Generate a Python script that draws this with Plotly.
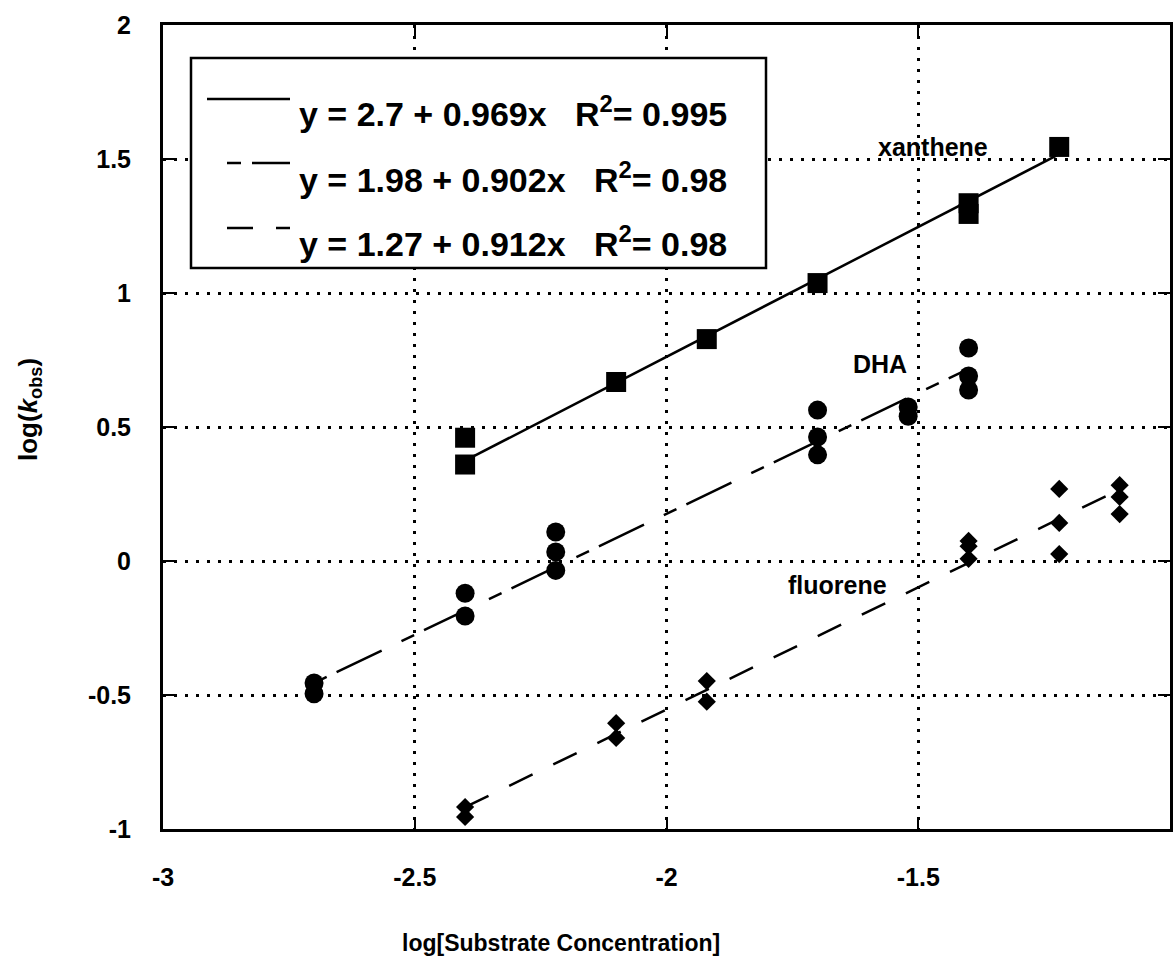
import plotly.graph_objects as go

# Observed rate constants vs. substrate concentration (log-log)
xanthene_x = [-2.4, -2.4, -2.1, -1.92, -1.7, -1.4, -1.4, -1.22]
xanthene_y = [0.46, 0.36, 0.668, 0.828, 1.037, 1.335, 1.295, 1.545]

dha_x = [-2.7, -2.7, -2.4, -2.4, -2.22, -2.22, -2.22, -1.7, -1.7, -1.7,
         -1.52, -1.52, -1.4, -1.4, -1.4]
dha_y = [-0.455, -0.495, -0.12, -0.205, 0.108, 0.034, -0.035, 0.563, 0.463, 0.396,
         0.575, 0.54, 0.795, 0.69, 0.638]

fluorene_x = [-2.4, -2.4, -2.1, -2.1, -1.92, -1.92, -1.4, -1.4, -1.4,
              -1.22, -1.22, -1.22, -1.1, -1.1, -1.1]
fluorene_y = [-0.918, -0.955, -0.605, -0.66, -0.448, -0.525, 0.075, 0.055, 0.008,
              0.269, 0.142, 0.026, 0.283, 0.239, 0.175]

# Linear fits: intercept, slope, R^2
fit_intercepts = [2.7, 1.98, 1.27]
fit_slopes = [0.969, 0.902, 0.912]
fit_r2 = ["0.995", "0.98", "0.98"]
fit_intercept_labels = ["2.7", "1.98", "1.27"]
fit_slope_labels = ["0.969", "0.902", "0.912"]

series_names = ["xanthene", "DHA", "fluorene"]
x_tickvals = [-3, -2.5, -2, -1.5, -1]
x_ticktext = ["-3", "-2.5", "-2", "-1.5", "-1"]
y_tickvals = [-1, -0.5, 0, 0.5, 1, 1.5, 2]
y_ticktext = ["-1", "-0.5", "0", "0.5", "1", "1.5", "2"]
x_title = "log[Substrate Concentration]"
y_title = "log(<i>k</i><sub>obs</sub>)"

FONT = "Arial, 'Liberation Sans', sans-serif"
dashes = ["solid", "14px,11px,50px,22px", "26px,23px"]
symbols = ["square", "circle", "diamond"]
sizes = [20, 19, 14]

# plot-area geometry in pixels (for the in-plot legend box and titles)
W, H = 1173, 956
L, R, T, B = 163, 3, 25, 127
PW, PH = W - L - R, H - T - B


def px_x(p):
    return (p - L) / PW


def px_y(p):
    return (H - B - p) / PH


def bfont(size):
    return dict(family=FONT, size=size, color="black", weight="bold")


fig = go.Figure()

series = [(xanthene_x, xanthene_y), (dha_x, dha_y), (fluorene_x, fluorene_y)]
for i, (xs, ys) in enumerate(series):
    x0, x1 = min(xs), max(xs)
    fig.add_trace(go.Scatter(
        x=[x0, x1],
        y=[fit_intercepts[i] + fit_slopes[i] * x0, fit_intercepts[i] + fit_slopes[i] * x1],
        mode="lines",
        line=dict(color="black", width=2.5, dash=dashes[i]),
        showlegend=False, hoverinfo="skip",
    ))
    fig.add_trace(go.Scatter(
        x=xs, y=ys, mode="markers", name=series_names[i],
        marker=dict(symbol=symbols[i], size=sizes[i], color="black",
                    line=dict(width=0)),
        showlegend=False,
    ))

# Series labels
label_pos = [(-1.47, 1.545), (-1.575, 0.735), (-1.66, -0.09)]
for name, (lx, ly) in zip(series_names, label_pos):
    fig.add_annotation(x=lx, y=ly, xref="x", yref="y", text=name, showarrow=False,
                       font=bfont(25), xanchor="center", yanchor="middle")

# Fit-equation legend box
fig.add_shape(type="rect", xref="paper", yref="paper",
              x0=px_x(191), x1=px_x(766), y0=px_y(268), y1=px_y(58),
              line=dict(color="black", width=2.5), fillcolor="white", layer="above")

sample_rows = [99, 163, 228]
text_rows = [111, 177, 241]
sample_starts = [207, 227, 227]
for i in range(3):
    fig.add_shape(type="line", xref="paper", yref="paper",
                  x0=px_x(sample_starts[i]), x1=px_x(290),
                  y0=px_y(sample_rows[i]), y1=px_y(sample_rows[i]),
                  line=dict(color="black", width=2.5, dash=dashes[i]), layer="above")
    fig.add_annotation(
        xref="paper", yref="paper", x=px_x(297), y=px_y(text_rows[i]),
        text=(f"y = {fit_intercept_labels[i]} + {fit_slope_labels[i]}x   "
              f"R<sup>2</sup>= {fit_r2[i]}"),
        showarrow=False, xanchor="left", yanchor="middle", font=bfont(34))

# Axis titles
fig.add_annotation(xref="paper", yref="paper", x=px_x(561), y=px_y(943),
                   text=x_title, showarrow=False,
                   xanchor="center", yanchor="middle", font=bfont(23))
fig.add_annotation(xref="paper", yref="paper", x=px_x(30), y=px_y(410),
                   text=y_title, showarrow=False, textangle=-90,
                   xanchor="center", yanchor="middle", font=bfont(26))

axis_common = dict(
    showline=True, mirror="ticks", linecolor="black", linewidth=3,
    ticks="inside", ticklen=12, tickwidth=2, tickcolor="black",
    showgrid=True, gridcolor="black", gridwidth=2.5, griddash="3px,8px",
    zeroline=False,
    tickfont=bfont(25),
)

fig.update_xaxes(range=[-3, -1], tickvals=x_tickvals, ticktext=x_ticktext,
                 ticklabelstandoff=24, **axis_common)
fig.update_yaxes(range=[-1, 2], tickvals=y_tickvals, ticktext=y_ticktext,
                 ticklabelstandoff=24, **axis_common)

fig.update_layout(
    width=W, height=H,
    margin=dict(l=L, r=R, t=T, b=B, autoexpand=False),
    paper_bgcolor="white", plot_bgcolor="white",
    font=dict(family=FONT, color="black"),
    showlegend=False,
)

fig.write_html("out.html")
